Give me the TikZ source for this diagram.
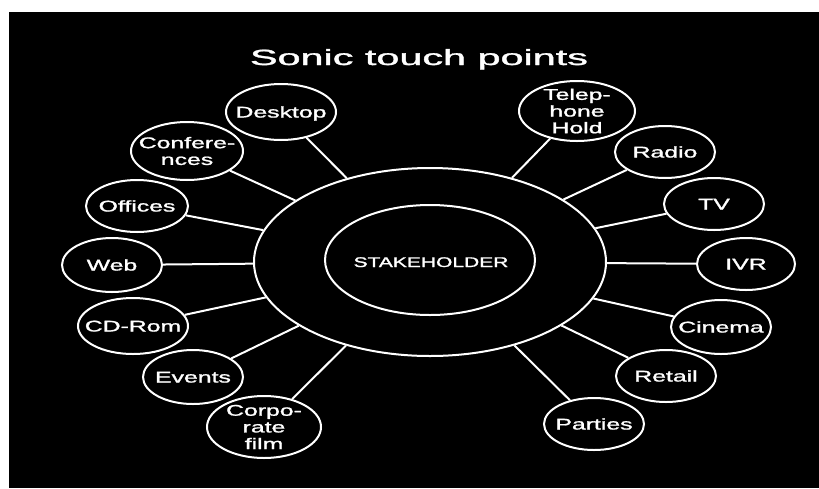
\documentclass[tikz,border=0pt]{standalone}
\usepackage{fontspec}
\usepackage{graphicx}
\setmainfont{Liberation Sans}[FakeBold=1.2]
\usetikzlibrary{shapes.geometric}
\newcommand\sxn[1]{\scalebox{1.6}[1]{#1}}
\begin{document}
\begin{tikzpicture}[x=1pt,y=-1pt,
  bub/.style={ellipse,draw=white,line width=2pt,inner sep=0pt},
  conn/.style={draw=white,line width=2pt},
  lbl/.style={text=white,font=\fontsize{15.5}{16.7}\selectfont,inner sep=0pt,text height=11pt,text depth=0pt},
  mlbl/.style={text=white,font=\fontsize{15.5}{16.7}\selectfont,inner sep=0pt,align=center}]
\useasboundingbox (0,0) rectangle (819,488);
\fill[white] (0,0) rectangle (819,488);
\fill[black] (9,12) rectangle (819,488);

\node[text=white,font=\fontsize{22}{26}\selectfont,anchor=base,inner sep=0pt] (title) at (419,65) {\scalebox{1.88}[1]{Sonic touch points}};

\node[bub,minimum width=352pt,minimum height=188pt] (outer) at (430,262) {};
\node[bub,minimum width=210pt,minimum height=110pt] (inner) at (430,260) {};
\node[text=white,font=\fontsize{14}{16}\selectfont,inner sep=0pt,text height=10pt,text depth=0pt] (stk) at (431,262) {\scalebox{1.5}[1]{STAKEHOLDER}};

% left side
\node[bub,minimum width=110pt,minimum height=56pt] (desk) at (281,112) {};
\node[lbl] (desk-t) at (desk) {\sxn{Desktop}};
\node[bub,minimum width=112pt,minimum height=58pt] (conf) at (187,151) {};
\node[mlbl] (conf-t) at (conf) {\sxn{Confere-}\\\sxn{nces}};
\node[bub,minimum width=102pt,minimum height=52pt] (off) at (137,206) {};
\node[lbl] (off-t) at (off) {\sxn{Offices}};
\node[bub,minimum width=100pt,minimum height=54pt] (web) at (112,265) {};
\node[lbl] (web-t) at (web) {\sxn{Web}};
\node[bub,minimum width=110pt,minimum height=56pt] (cd) at (133,326) {};
\node[lbl] (cd-t) at (cd) {\sxn{CD-Rom}};
\node[bub,minimum width=100pt,minimum height=54pt] (ev) at (193,377) {};
\node[lbl] (ev-t) at (ev) {\sxn{Events}};
\node[bub,minimum width=114pt,minimum height=62pt] (corp) at (264,427) {};
\node[mlbl] (corp-t) at (corp) {\sxn{Corpo-}\\\sxn{rate}\\\sxn{film}};

% right side
\node[bub,minimum width=116pt,minimum height=60pt] (tel) at (577,111) {};
\node[mlbl] (tel-t) at (tel) {\sxn{Telep-}\\\sxn{hone}\\\sxn{Hold}};
\node[bub,minimum width=100pt,minimum height=52pt] (radio) at (665,152) {};
\node[lbl] (radio-t) at (radio) {\sxn{Radio}};
\node[bub,minimum width=100pt,minimum height=52pt] (tv) at (714,204) {};
\node[lbl] (tv-t) at (tv) {\sxn{TV}};
\node[bub,minimum width=98pt,minimum height=52pt] (ivr) at (746,264) {};
\node[lbl] (ivr-t) at (ivr) {\sxn{IVR}};
\node[bub,minimum width=100pt,minimum height=54pt] (cin) at (721,327) {};
\node[lbl] (cin-t) at (cin) {\sxn{Cinema}};
\node[bub,minimum width=100pt,minimum height=52pt] (ret) at (666,376) {};
\node[lbl] (ret-t) at (ret) {\sxn{Retail}};
\node[bub,minimum width=100pt,minimum height=52pt] (par) at (594,424) {};
\node[lbl] (par-t) at (par) {\sxn{Parties}};

\foreach \n in {desk,conf,off,web,cd,ev,corp,tel,radio,tv,ivr,cin,ret,par}
  \draw[conn] (\n) -- (outer);
\end{tikzpicture}
\end{document}
